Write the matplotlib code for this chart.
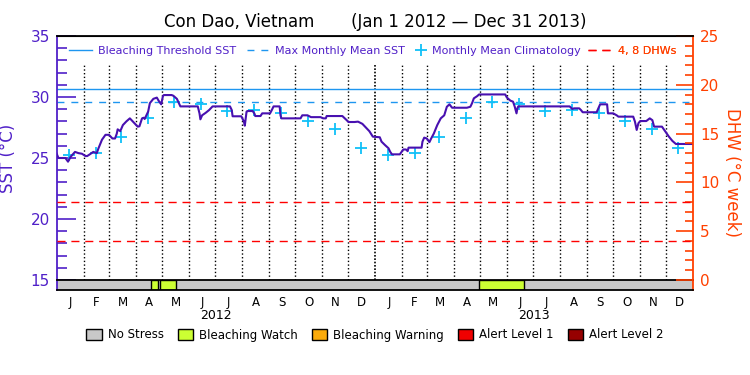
import matplotlib
matplotlib.use("Agg")
import matplotlib.pyplot as plt
import matplotlib.transforms as mtransforms
from matplotlib.lines import Line2D
from matplotlib.patches import Patch
from matplotlib.ticker import MultipleLocator
import numpy as np

# SST time series, day counted from Jan 1 2012
sst_day = [0, 2, 10, 13, 16, 21, 25, 29, 33, 35, 38, 42, 46, 48, 52, 56, 60, 64, 67,
           69, 70, 73, 76, 80, 84, 88, 93, 95, 98, 100, 101, 105, 107, 111, 115, 117,
           120, 122, 123, 132, 134, 138, 142, 162, 164, 165, 167, 171, 175, 179, 199,
           201, 202, 212, 215, 216, 217, 218, 219, 225, 227, 228, 234, 236, 245, 247,
           249, 256, 257, 258, 280, 282, 288, 292, 303, 306, 309, 310, 328, 333, 335,
           342, 346, 351, 355, 359, 363, 371, 373, 377, 381, 383, 385, 394, 396, 398,
           401, 403, 404, 419, 420, 422, 425, 428, 430, 433, 437, 441, 445, 448, 451,
           454, 471, 475, 477, 479, 483, 485, 515, 517, 521, 524, 526, 528, 529, 530,
           589, 592, 594, 600, 602, 604, 620, 622, 624, 632, 633, 639, 643, 645, 662,
           664, 666, 668, 670, 677, 681, 684, 686, 695, 699, 703, 707, 711, 731]
sst_val = [25.35, 25.0, 25.0, 24.7, 25.1, 25.5, 25.4, 25.35, 25.16, 25.16, 25.3, 25.5,
           25.4, 25.8, 26.5, 26.9, 26.9, 26.6, 26.6, 27.0, 27.35, 27.2, 27.7, 28.0,
           28.25, 27.95, 27.57, 27.6, 28.25, 28.3, 28.2, 28.8, 29.5, 29.85, 29.95,
           29.7, 29.4, 30.08, 30.16, 30.16, 30.1, 29.85, 29.23, 29.23, 28.65, 28.17,
           28.5, 28.7, 28.93, 29.23, 29.23, 28.93, 28.42, 28.42, 27.98, 27.65, 28.25,
           28.8, 28.85, 28.85, 28.65, 28.44, 28.44, 28.66, 28.66, 28.93, 29.23, 29.23,
           28.5, 28.25, 28.25, 28.5, 28.5, 28.35, 28.35, 28.25, 28.25, 28.44, 28.44,
           28.1, 27.95, 27.95, 27.98, 27.8, 27.5, 27.2, 26.75, 26.7, 26.34, 26.06,
           25.8, 25.5, 25.3, 25.3, 25.5, 25.7, 25.7, 25.56, 25.85, 25.85, 26.34, 26.67,
           26.6, 26.3, 26.6, 27.0, 27.7, 28.25, 28.5, 29.2, 29.4, 29.12, 29.12, 29.2,
           29.5, 29.89, 30.08, 30.21, 30.21, 29.95, 29.7, 29.62, 29.2, 28.66, 29.07,
           29.23, 29.23, 29.02, 29.07, 29.07, 28.93, 28.75, 28.75, 29.07, 29.4, 29.4,
           28.66, 28.66, 28.5, 28.39, 28.39, 27.98, 27.3, 27.85, 28.03, 28.03, 28.25,
           28.1, 27.57, 27.57, 27.16, 26.75, 26.4, 26.15, 26.15]

# monthly mean climatology Jan..Dec
clim_val = [25.25, 25.4, 26.7, 28.25, 29.62, 29.43, 28.87, 28.9, 28.7, 28.06, 27.4, 25.8]
mmm = 29.62
threshold = mmm + 1.0
dhw_levels = [4, 8]

# bleaching watch periods (days from Jan 1 2012)
watch_start = [108.3, 118.6, 485]
watch_end = [116.6, 136.9, 537]

month_letters = ['J', 'F', 'M', 'A', 'M', 'J', 'J', 'A', 'S', 'O', 'N', 'D']
years = ['2012', '2013']

stress_names = ['No Stress', 'Bleaching Watch', 'Bleaching Warning', 'Alert Level 1', 'Alert Level 2']
stress_colors = ['#c8c8c8', '#ccff33', '#faaa0a', '#f00000', '#960000']

purple = '#5020c8'
line_purple = '#4810b0'
orange = '#ff4000'
blue = '#1e96f0'
cyan = '#10c0f8'
blue_dash = (0, (5, 5))
red_dash = (0, (5.8, 4.2))

months = np.arange('2012-01', '2014-02', dtype='datetime64[M]')
mstart = (months.astype('datetime64[D]') - np.datetime64('2012-01-01')).astype(int)
mmid = (mstart[:-1] + mstart[1:]) / 2.0
ndays = mstart[-1]

fig = plt.figure(figsize=(7.5, 3.75), dpi=100)
ax = fig.add_axes([0.0756, 0.2533, 0.8488, 0.6507])
bar_ax = fig.add_axes([0.0756, 0.2267, 0.8488, 0.0267])
ax2 = ax.twinx()

ax.set_xlim(0, ndays)
ax.set_ylim(15, 35)
ax2.set_ylim(0, 25)

# month separators, denser one at the new year
ax.vlines(np.delete(mstart[1:-1], 11), 15, 32.6, colors='black', linestyles=':', linewidth=1)
ax.vlines([mstart[12]], 15, 32.6, colors='black', linestyles=(0, (1, 1)), linewidth=1.2)

ax.axhline(threshold, color=blue, lw=1.0)
ax.axhline(mmm, color=blue, lw=1.0, ls=blue_dash)
ax.plot(mstart[:-1] + 14, np.tile(clim_val, 2), ls='none', marker='+', ms=8,
        mew=1.3, color=cyan, zorder=4)
ax.plot(sst_day, sst_val, color=line_purple, lw=1.5, zorder=5)

for lev in dhw_levels:
    ax2.axhline(lev, color='red', lw=1.0, ls=red_dash)

# axes styling
ax.set_xticks([])
for s in ['bottom', 'right']:
    ax.spines[s].set_visible(False)
ax.spines['left'].set_color(purple)
ax.spines['left'].set_linewidth(1.3)
ax.yaxis.set_major_locator(MultipleLocator(5))
ax.yaxis.set_minor_locator(MultipleLocator(1))
ax.tick_params(axis='y', which='major', direction='in', length=14, width=1.2,
               color=purple, labelcolor=purple, labelsize=11, pad=5)
ax.tick_params(axis='y', which='minor', direction='in', length=7, width=1.2, color=purple)
ax.set_ylabel('SST (°C)', color=purple, fontsize=12)
ax.yaxis.set_label_coords(-0.062, 0.5)

for s in ['left', 'bottom']:
    ax2.spines[s].set_visible(False)
ax2.spines['top'].set_color('black')
ax2.spines['top'].set_linewidth(1.3)
ax2.spines['right'].set_color(orange)
ax2.spines['right'].set_linewidth(1.3)
ax2.yaxis.set_major_locator(MultipleLocator(5))
ax2.yaxis.set_minor_locator(MultipleLocator(1))
ax2.tick_params(axis='y', which='major', direction='in', length=12, width=1.2,
                color=orange, labelcolor=orange, labelsize=11, pad=5)
ax2.tick_params(axis='y', which='minor', direction='in', length=6, width=1.2, color=orange)
ax2.set_ylabel('DHW (°C week)', color=orange, fontsize=12, rotation=270, va='center')
ax2.yaxis.set_label_coords(1.061, 0.44)

# stress bar
bar_ax.set_xlim(0, ndays)
bar_ax.set_ylim(0, 1)
bar_ax.broken_barh([(0, ndays)], (0, 1), facecolors=stress_colors[0])
bar_ax.broken_barh([(s, e - s) for s, e in zip(watch_start, watch_end)], (0, 1),
                   facecolors=stress_colors[1], edgecolors='black', linewidth=1)
bar_ax.set_yticks([])
bar_ax.set_xticks(mmid)
bar_ax.set_xticklabels(month_letters * 2, fontsize=8.5)
bar_ax.tick_params(axis='x', length=0, pad=4)
bar_ax.spines['left'].set_color(purple)
bar_ax.spines['right'].set_color(orange)
for s in bar_ax.spines.values():
    s.set_linewidth(1.3)

trans = mtransforms.blended_transform_factory(bar_ax.transData, bar_ax.transAxes)
for i, yr in enumerate(years):
    bar_ax.text((mstart[12 * i] + mstart[12 * i + 12]) / 2.0, -2.5, yr, transform=trans,
                ha='center', va='center', fontsize=9)

# top legend, one entry per legend so each sits where the original has it
top_items = [
    (Line2D([], [], color=blue, lw=1.0), 'Bleaching Threshold SST', purple, 0.019, 2.1),
    (Line2D([], [], color=blue, lw=1.0, ls=blue_dash), 'Max Monthly Mean SST', purple, 0.299, 2.0),
    (Line2D([], [], color=cyan, ls='none', marker='+', ms=8, mew=1.3),
     'Monthly Mean Climatology', purple, 0.564, 1.0),
    (Line2D([], [], color='red', lw=1.0, ls=red_dash), '4, 8 DHWs', orange, 0.834, 2.2),
]
for h, lab, col, xpos, hl in top_items:
    leg = ax2.legend([h], [lab], loc='center left', bbox_to_anchor=(xpos, 0.94),
                     frameon=False, fontsize=8, handlelength=hl, handletextpad=0.5,
                     borderaxespad=0, borderpad=0, labelcolor=col)
    ax2.add_artist(leg)

# bottom legend
patches = [Patch(facecolor=c, edgecolor='black', lw=1) for c in stress_colors]
fig.legend(patches, stress_names, loc='center', bbox_to_anchor=(0.5, 1 - 335 / 375), ncol=5,
           frameon=False, fontsize=8.5, handlelength=1.3, handleheight=1.1,
           handletextpad=0.5, columnspacing=1.2)

fig.text(0.5, 1 - 22 / 375, 'Con Dao, Vietnam       (Jan 1 2012 \u2014 Dec 31 2013)',
         ha='center', va='center', fontsize=12)

fig.savefig('out.png', dpi=100)
